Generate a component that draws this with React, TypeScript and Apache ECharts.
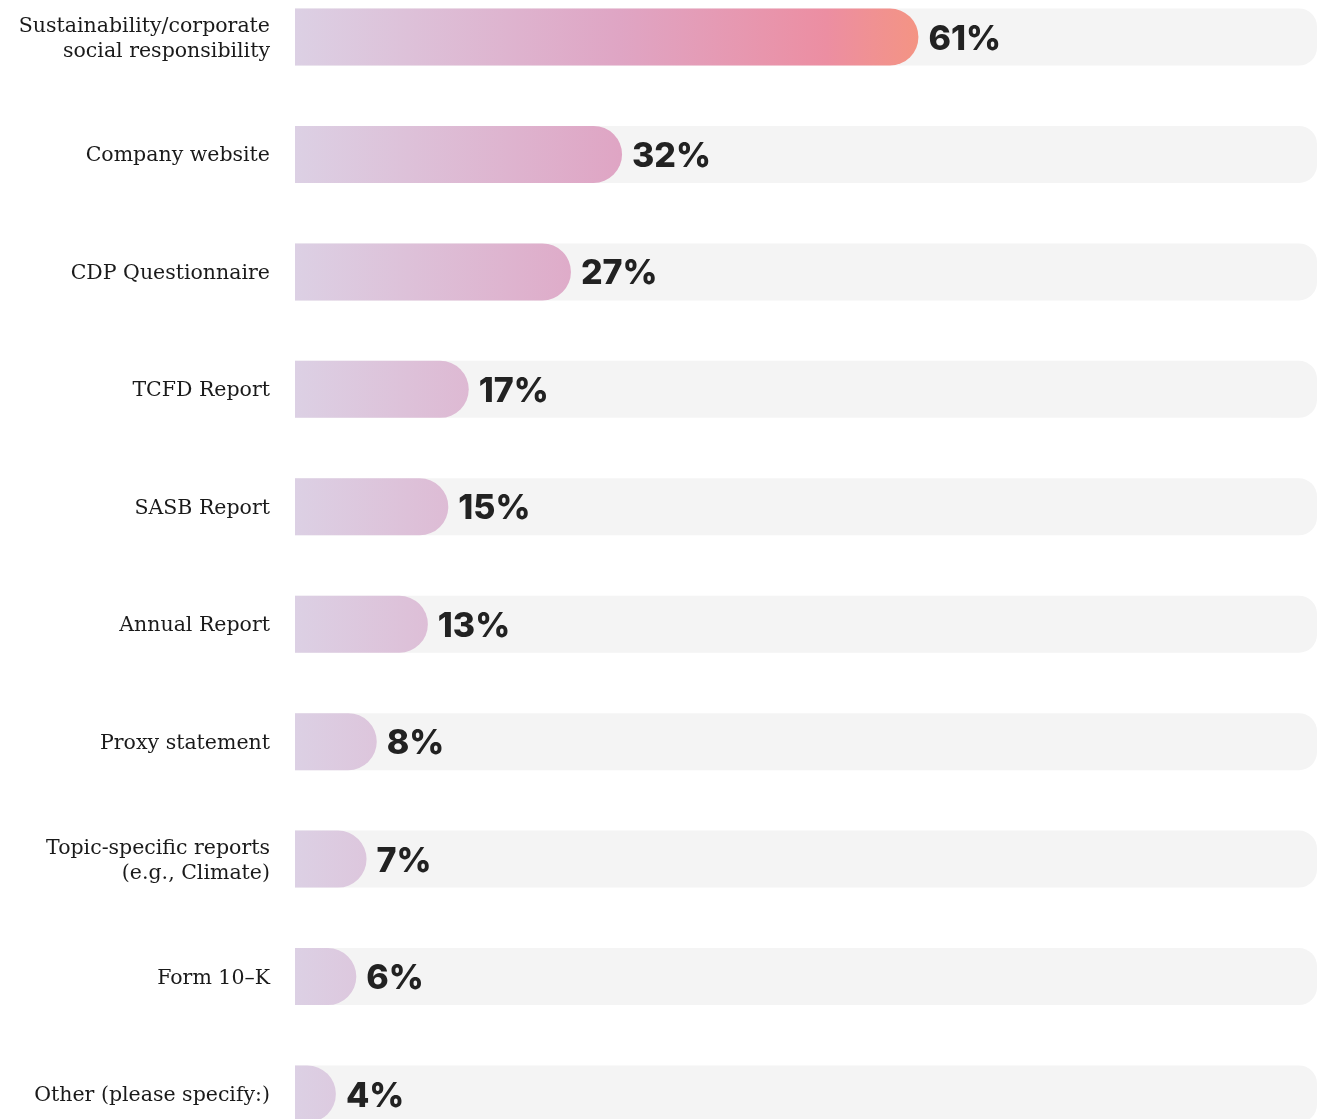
import React, { useEffect, useRef } from "react";
import * as echarts from "echarts";

const categories = [
  "Sustainability/corporate\nsocial responsibility",
  "Company website",
  "CDP Questionnaire",
  "TCFD Report",
  "SASB Report",
  "Annual Report",
  "Proxy statement",
  "Topic-specific reports\n(e.g., Climate)",
  "Form 10–K",
  "Other (please specify:)",
];
const values = [61, 32, 27, 17, 15, 13, 8, 7, 6, 4];
const fullScale = [100, 100, 100, 100, 100, 100, 100, 100, 100, 100];

export default function App() {
  const ref = useRef<HTMLDivElement>(null);
  useEffect(() => {
    if (!ref.current) return;
    const chart = echarts.init(ref.current, null, { renderer: "svg" });
    const gradient = new echarts.graphic.LinearGradient(
      295,
      0,
      920,
      0,
      [
        { offset: 0, color: "#dcd0e4" },
        { offset: 0.52, color: "#dfa5c4" },
        { offset: 0.85, color: "#ec8ea2" },
        { offset: 1, color: "#f49483" },
      ],
      true
    );
    chart.setOption({
      animation: false,
      grid: { left: 295, width: 1022, top: 37, bottom: 25, containLabel: false },
      xAxis: {
        type: "value",
        min: 0,
        max: 100,
        show: false,
      },
      yAxis: {
        type: "category",
        data: categories,
        inverse: true,
        boundaryGap: false,
        axisLine: { show: false },
        axisTick: { show: false },
        splitLine: { show: false },
        axisLabel: {
          margin: 25,
          color: "#1a1a1a",
          fontFamily: "DejaVu Serif",
          fontSize: 20.5,
          lineHeight: 25,
          align: "right",
        },
      },
      series: [
        {
          type: "bar",
          data: fullScale,
          barWidth: 57,
          barGap: "-100%",
          clip: false,
          silent: true,
          itemStyle: { color: "#f4f4f4", borderRadius: [0, 18, 18, 0] },
          z: 1,
        },
        {
          type: "bar",
          data: values,
          barWidth: 57,
          clip: false,
          itemStyle: { color: gradient, borderRadius: [0, 28.5, 28.5, 0] },
          label: {
            show: true,
            position: "right",
            distance: 10,
            formatter: "{c}%",
            color: "#222222",
            fontFamily: "Inter",
            fontWeight: 800,
            fontSize: 34,
          },
          z: 2,
        },
      ],
    });
    return () => chart.dispose();
  }, []);
  return (
    <div
      ref={ref}
      style={{ position: "fixed", left: 0, top: 0, width: 1317, height: 1119 }}
    />
  );
}
